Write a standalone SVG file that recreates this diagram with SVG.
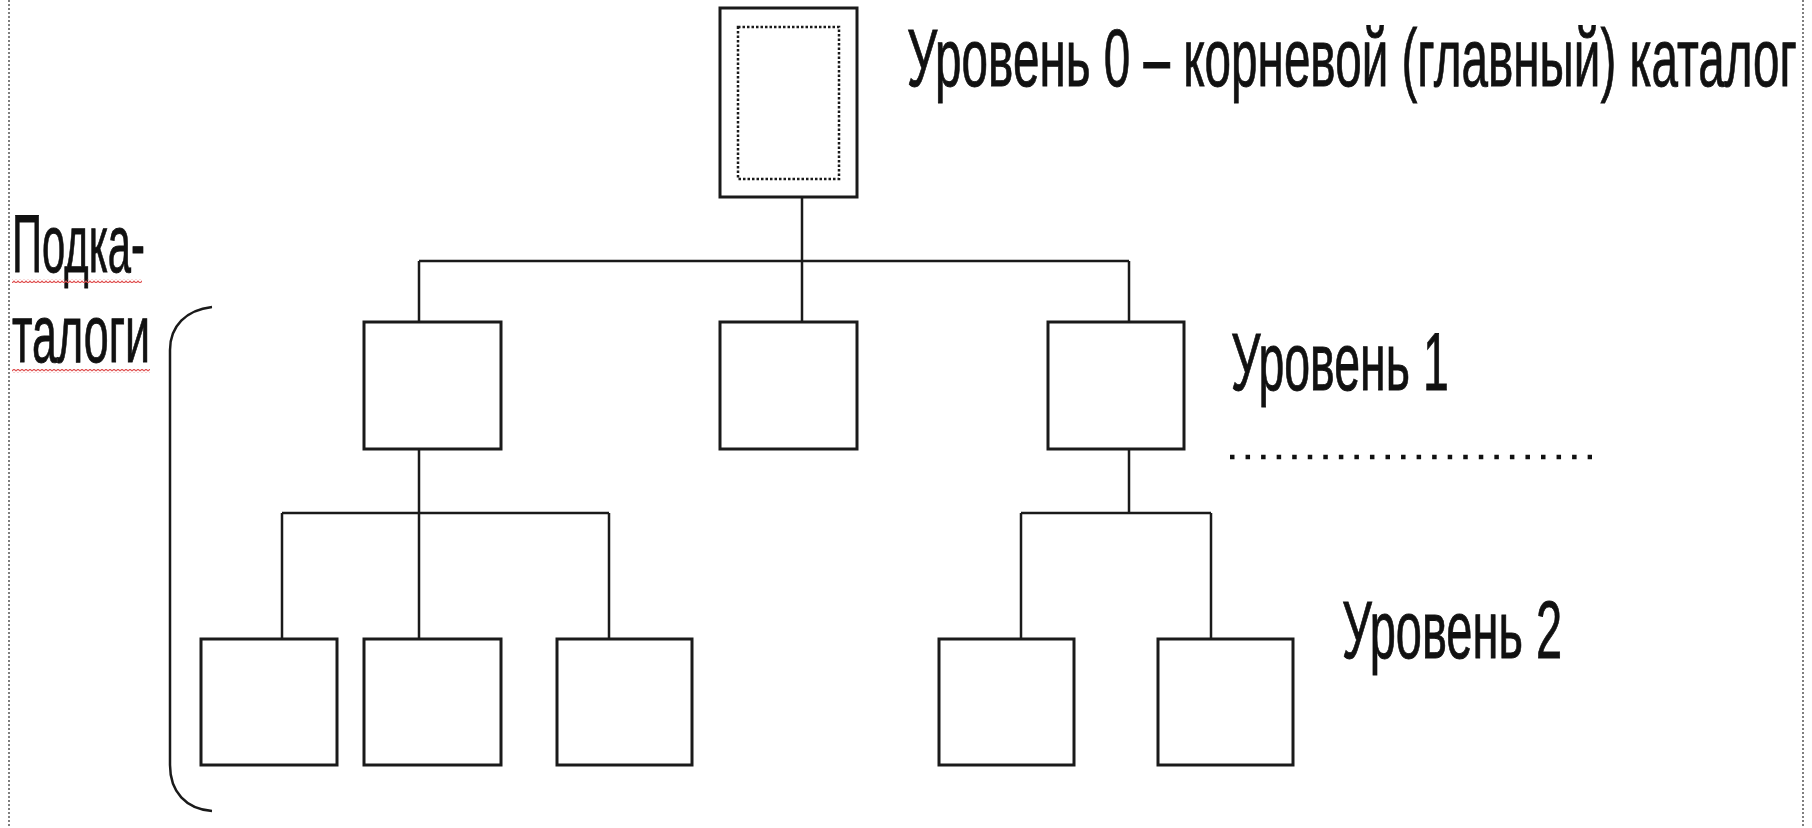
<svg xmlns="http://www.w3.org/2000/svg" width="1812" height="828" viewBox="0 0 1812 828">
<style>
.box{fill:#fff;stroke:#1a1a1a;stroke-width:3}
.inner{fill:none;stroke:#1a1a1a;stroke-width:2.5;stroke-dasharray:2.5 2}
.con{stroke:#1a1a1a;stroke-width:2.5;fill:none}
.lbl{font-family:"Liberation Sans",Arial,sans-serif;font-size:82px;fill:#111;stroke:#111;stroke-width:0.9}
.border{stroke:#555;stroke-width:1.5;stroke-dasharray:2 2}
</style>
<defs>
<pattern id="wave" width="4" height="4" patternUnits="userSpaceOnUse">
<path d="M0,3 L2,1 L4,3" stroke="#e05050" fill="none" stroke-width="1.2"/>
</pattern>
</defs>
<rect width="1812" height="828" fill="#fff"/>
<line class="border" x1="9" y1="0" x2="9" y2="828"/>
<line class="border" x1="1803" y1="0" x2="1803" y2="828"/>
<g id="connectors">
<path class="con" d="M802,197 V261 M419,261 H1129 M419,261 V322 M802,261 V322 M1129,261 V322"/>
<path class="con" d="M419,449 V513 M282,513 H609 M282,513 V639 M419,513 V639 M609,513 V639"/>
<path class="con" d="M1129,449 V513 M1021,513 H1211 M1021,513 V639 M1211,513 V639"/>
</g>
<g id="root">
<rect class="box" x="720" y="8" width="137" height="189"/>
<rect class="inner" x="738" y="27" width="101" height="152"/>
</g>
<g id="l1a"><rect class="box" x="364" y="322" width="137" height="127"/></g>
<g id="l1b"><rect class="box" x="720" y="322" width="137" height="127"/></g>
<g id="l1c"><rect class="box" x="1048" y="322" width="136" height="127"/></g>
<g id="l2a"><rect class="box" x="201" y="639" width="136" height="126"/></g>
<g id="l2b"><rect class="box" x="364" y="639" width="137" height="126"/></g>
<g id="l2c"><rect class="box" x="557" y="639" width="135" height="126"/></g>
<g id="l2d"><rect class="box" x="939" y="639" width="135" height="126"/></g>
<g id="l2e"><rect class="box" x="1158" y="639" width="135" height="126"/></g>
<g id="labels">
<text class="lbl" transform="translate(907,86) scale(0.573,1)" x="0" y="0" textLength="1553" lengthAdjust="spacingAndGlyphs">Уровень 0 – корневой (главный) каталог</text>
<text class="lbl" transform="translate(1231,390) scale(0.573,1)" x="0" y="0" textLength="380" lengthAdjust="spacingAndGlyphs">Уровень 1</text>
<text class="lbl" transform="translate(1342,658) scale(0.573,1)" x="0" y="0" textLength="384" lengthAdjust="spacingAndGlyphs">Уровень 2</text>
<line x1="1230" y1="457" x2="1592" y2="457" stroke="#111" stroke-width="4.5" stroke-dasharray="4.5 11.05"/>
</g>
<g id="subdirs">
<text class="lbl" transform="translate(12,272) scale(0.573,1)" x="0" y="0" textLength="232" lengthAdjust="spacingAndGlyphs">Подка-</text>
<text class="lbl" transform="translate(12,362) scale(0.573,1)" x="0" y="0" textLength="241" lengthAdjust="spacingAndGlyphs">талоги</text>
<rect x="12" y="279" width="130" height="4" fill="url(#wave)"/>
<rect x="12" y="369" width="138" height="4" fill="url(#wave)"/>
<path class="con" stroke="#333" d="M212,307 C186,310 170,326 170,350 L170,765 C170,792 186,809 212,811"/>
</g>
</svg>
